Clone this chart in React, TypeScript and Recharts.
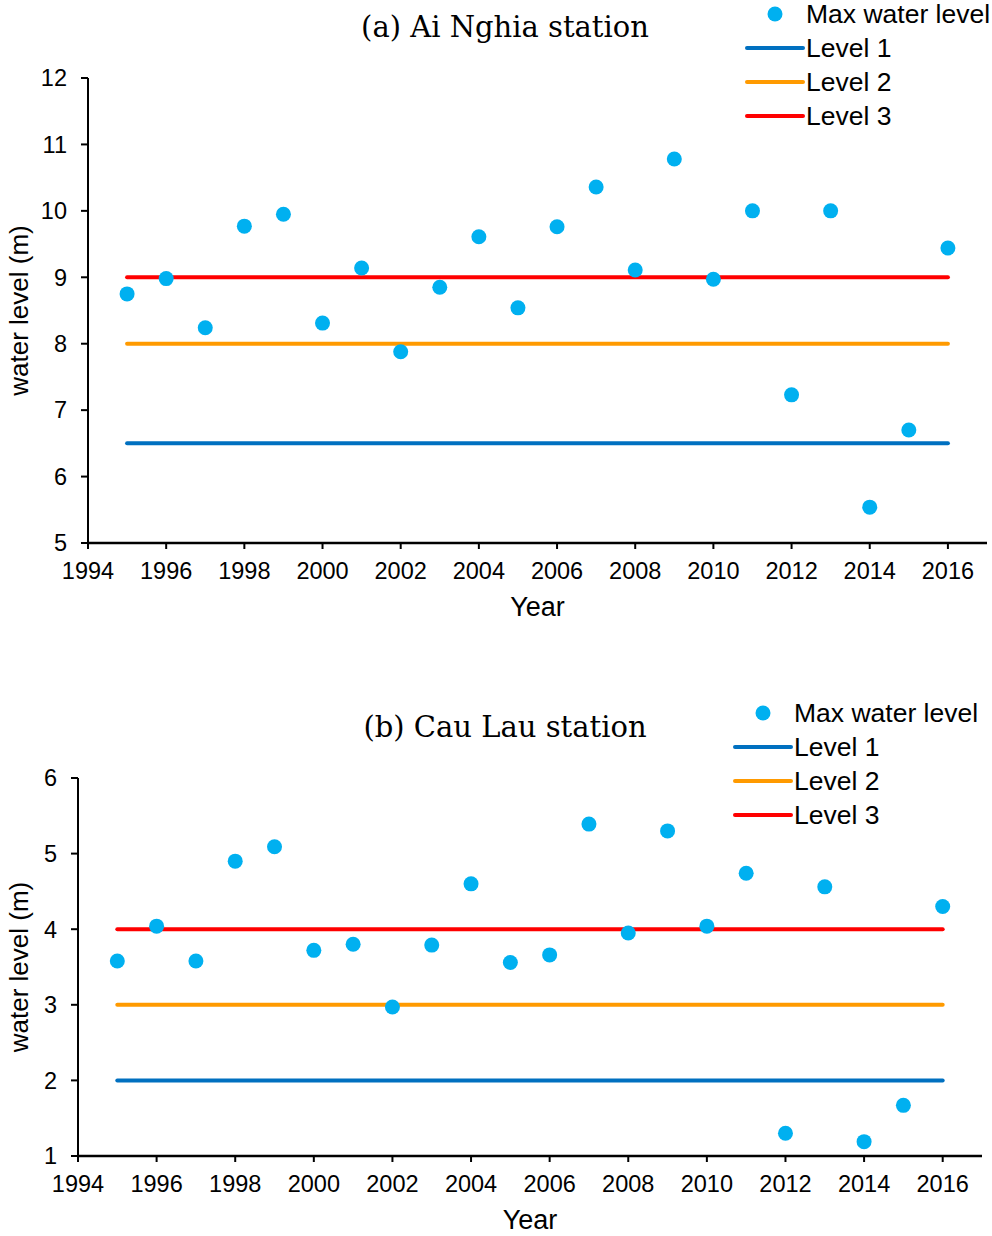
import React from 'react';
import { ComposedChart, Scatter, Line, XAxis, YAxis } from 'recharts';

const years = [1995, 1996, 1997, 1998, 1999, 2000, 2001, 2002, 2003, 2004, 2005, 2006, 2007, 2008, 2009, 2010, 2011, 2012, 2013, 2014, 2015, 2016];
const xTicks = [1994, 1996, 1998, 2000, 2002, 2004, 2006, 2008, 2010, 2012, 2014, 2016];

const aiNghiaMax = [8.75, 8.98, 8.24, 9.77, 9.95, 8.31, 9.14, 7.88, 8.85, 9.61, 8.54, 9.76, 10.36, 9.11, 10.78, 8.97, 10.0, 7.23, 10.0, 5.54, 6.7, 9.44];
const aiNghiaLevels = [6.5, 8, 9];
const aiNghiaYTicks = [5, 6, 7, 8, 9, 10, 11, 12];

const cauLauMax = [3.58, 4.04, 3.58, 4.9, 5.09, 3.72, 3.8, 2.97, 3.79, 4.6, 3.56, 3.66, 5.39, 3.95, 5.3, 4.04, 4.74, 1.3, 4.56, 1.19, 1.67, 4.3];
const cauLauLevels = [2, 3, 4];
const cauLauYTicks = [1, 2, 3, 4, 5, 6];

const seriesNames = ['Max water level', 'Level 1', 'Level 2', 'Level 3'];
const dotColor = '#00B0F0';
const levelColors = ['#0070C0', '#FF9A00', '#FF0000'];

const sans = '"Liberation Sans", Arial, sans-serif';
const serif = '"DejaVu Serif", serif';

const LegendBox = () => (
  <svg width={250} height={130} style={{ overflow: 'visible', display: 'block' }}>
    <circle cx={30} cy={14} r={7.5} fill={dotColor} />
    <text x={61} y={14} dominantBaseline="central" fontFamily={sans} fontSize={26.5} fill="#000">{seriesNames[0]}</text>
    {levelColors.map((c, i) => (
      <g key={i}>
        <line x1={2} x2={58} y1={48 + i * 34} y2={48 + i * 34} stroke={c} strokeWidth={4} strokeLinecap="round" />
        <text x={61} y={48 + i * 34} dominantBaseline="central" fontFamily={sans} fontSize={26.5} fill="#000">{seriesNames[i + 1]}</text>
      </g>
    ))}
  </svg>
);

const Dot = (props: any) => <circle cx={props.cx} cy={props.cy} r={7.5} fill={dotColor} />;

type StationProps = {
  title: string;
  values: number[];
  levels: number[];
  yTicks: number[];
  height: number;
  top: number;
  yAxisWidth: number;
  right: number;
  bottom: number;
  legendLeft: number;
  legendTop: number;
  titleTop: number;
};

const StationChart = (p: StationProps) => {
  const points = years.map((x, i) => ({ x, y: p.values[i] }));
  const levelData = p.levels.map((l) => years.map((x) => ({ x, y: l })));
  return (
    <div style={{ position: 'relative', width: 992, height: p.height }}>
      <div style={{ position: 'absolute', left: 0, width: 1010, top: p.titleTop, textAlign: 'center', fontFamily: serif, fontSize: 29, color: '#000', lineHeight: '32px', zIndex: 2 }}>{p.title}</div>
      <div style={{ position: 'absolute', left: p.legendLeft, top: p.legendTop, zIndex: 2 }}>
        <LegendBox />
      </div>
      <ComposedChart width={992} height={p.height} margin={{ top: p.top, right: p.right, bottom: p.bottom, left: 0 }}>
        <XAxis
          dataKey="x"
          type="number"
          domain={[1994, 2017]}
          ticks={xTicks}
          allowDataOverflow
          height={60}
          tick={{ fontFamily: sans, fontSize: 23.5, fill: '#000' }}
          tickSize={6}
          tickMargin={13}
          axisLine={{ stroke: '#000', strokeWidth: 2.5 }}
          tickLine={{ stroke: '#000', strokeWidth: 2 }}
          label={{ value: 'Year', position: 'insideBottom', offset: -13, style: { fontFamily: sans, fontSize: 27, fill: '#000' } }}
        />
        <YAxis
          type="number"
          domain={[p.yTicks[0], p.yTicks[p.yTicks.length - 1]]}
          ticks={p.yTicks}
          width={p.yAxisWidth}
          tick={{ fontFamily: sans, fontSize: 23.5, fill: '#000' }}
          tickSize={7}
          tickMargin={14}
          axisLine={{ stroke: '#000', strokeWidth: 2 }}
          tickLine={{ stroke: '#000', strokeWidth: 2 }}
          label={{ value: 'water level (m)', angle: -90, position: 'insideLeft', offset: 19, style: { textAnchor: 'middle', fontFamily: sans, fontSize: 26, fill: '#000' } }}
        />
        {levelData.map((d, i) => (
          <Line key={i} data={d} dataKey="y" name={seriesNames[i + 1]} stroke={levelColors[i]} strokeWidth={4} strokeLinecap="round" dot={false} activeDot={false} isAnimationActive={false} />
        ))}
        <Scatter data={points} dataKey="y" name={seriesNames[0]} fill={dotColor} shape={<Dot />} isAnimationActive={false} />
      </ComposedChart>
    </div>
  );
};

export default function App() {
  return (
    <div style={{ position: 'absolute', left: 0, top: 0, width: 992, height: 1236, background: '#fff' }}>
      <StationChart
        title="(a) Ai Nghia station"
        values={aiNghiaMax}
        levels={aiNghiaLevels}
        yTicks={aiNghiaYTicks}
        height={640}
        top={78}
        yAxisWidth={88}
        right={5}
        bottom={37}
        legendLeft={745}
        legendTop={0}
        titleTop={11}
      />
      <StationChart
        title="(b) Cau Lau station"
        values={cauLauMax}
        levels={cauLauLevels}
        yTicks={cauLauYTicks}
        height={596}
        top={138}
        yAxisWidth={78}
        right={10}
        bottom={20}
        legendLeft={733}
        legendTop={59}
        titleTop={71}
      />
    </div>
  );
}
